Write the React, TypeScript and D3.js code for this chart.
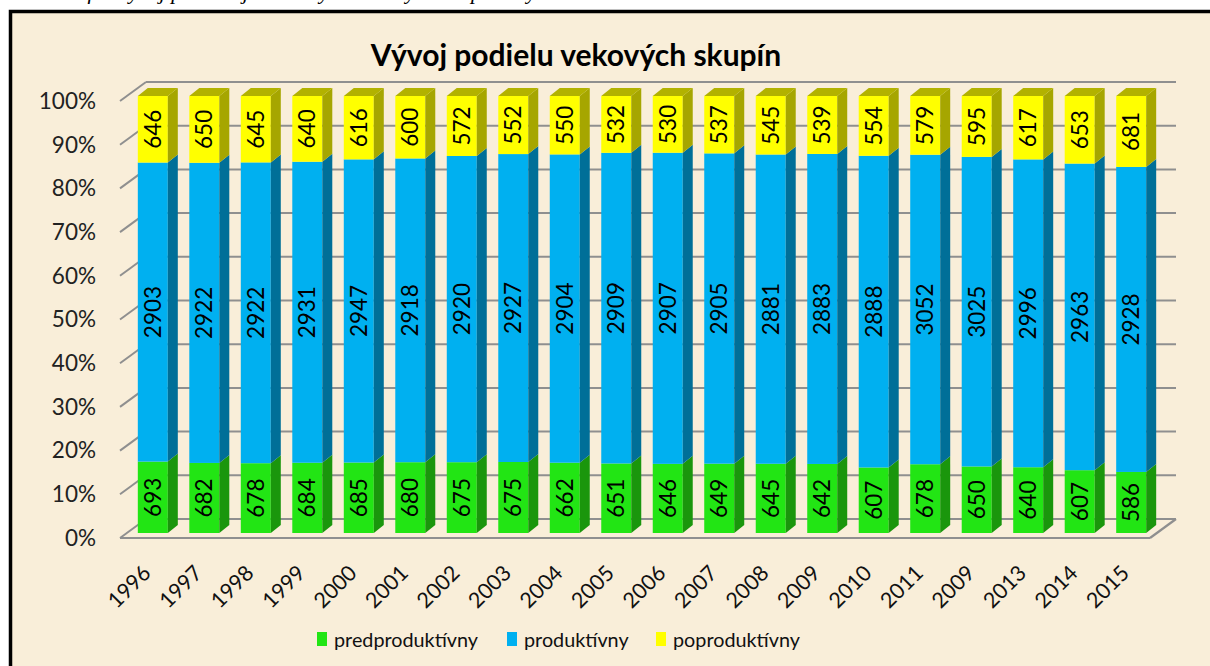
import React from "react";
import * as d3 from "d3";

const years = ["1996","1997","1998","1999","2000","2001","2002","2003","2004","2005","2006","2007","2008","2009","2010","2011","2009","2013","2014","2015"];
const predproduktivny = [693,682,678,684,685,680,675,675,662,651,646,649,645,642,607,678,650,640,607,586];
const produktivny = [2903,2922,2922,2931,2947,2918,2920,2927,2904,2909,2907,2905,2881,2883,2888,3052,3025,2996,2963,2928];
const poproduktivny = [646,650,645,640,616,600,572,552,550,532,530,537,545,539,554,579,595,617,653,681];
const seriesNames = ["predproduktívny", "produktívny", "poproduktívny"];
const yTicks = [0,0.1,0.2,0.3,0.4,0.5,0.6,0.7,0.8,0.9,1];
const title = "Vývoj podielu vekových skupín";

const frontColors = ["#22e514", "#00b0f0", "#ffff00"];
const sideColors = ["#1a960c", "#006f98", "#a6a600"];
const topColor = "#b2b200";

const W = 1210, H = 666;
const font = "Lato, 'Open Sans', sans-serif";

export default function App() {
  const n = years.length;
  const x = d3.scaleBand<number>()
    .domain(d3.range(n))
    .range([120, 1150])
    .paddingInner(0.4175)
    .paddingOuter(0.21);
  const y = d3.scaleLinear().domain([0, 1]).range([538, 101]);
  const depthX = 26, depthY = -19; // back wall offset
  const barOffX = 7, barOffY = -5; // bar front offset from front plane
  const bdx = 10, bdy = -8; // bar depth
  const data = years.map((yr, i) => {
    const vals = [predproduktivny[i], produktivny[i], poproduktivny[i]];
    const total = d3.sum(vals);
    const stack: { v: number; y0: number; y1: number }[] = [];
    let acc = 0;
    vals.forEach((v) => {
      stack.push({ v, y0: acc / total, y1: (acc + v) / total });
      acc += v;
    });
    return { yr, i, stack };
  });
  const bw = x.bandwidth();
  const legendX = [317, 507, 656];

  return (
    <svg width={W} height={H} style={{ position: "absolute", left: 0, top: 0, display: "block" }}>
      <rect x={0} y={0} width={W} height={H} fill="#ffffff" />
      <text x={52} y={-1} fontFamily="'Liberation Serif', 'DejaVu Serif', serif" fontStyle="italic" fontSize={22} fill="#000">
        Graf 3 Vývoj podielu jednotlivých vekových skupín obyvateľstva obce v rokoch 1996 – 2015
      </text>
      <rect x={10.5} y={11.5} width={W + 20} height={H + 20} fill="#f9eed9" stroke="#000" strokeWidth={3.5} />
      <text x={576} y={66} textAnchor="middle" fontFamily={font} fontWeight={700} fontSize={30} fill="#000">{title}</text>

      {/* back wall gridlines and left diagonals */}
      {yTicks.map((t) => (
        <g key={t} stroke="#8f8f8f" strokeWidth={2} fill="none">
          <line x1={120 + depthX} x2={1150 + depthX} y1={y(t) + depthY} y2={y(t) + depthY} />
          <line x1={120} y1={y(t)} x2={120 + depthX} y2={y(t) + depthY} />
        </g>
      ))}
      {/* floor front */}
      <g stroke="#8f8f8f" strokeWidth={2.2} fill="none">
        <line x1={120} x2={1150} y1={y(0)} y2={y(0)} />
        <line x1={1150} y1={y(0)} x2={1150 + depthX} y2={y(0) + depthY} />
      </g>
      {/* y axis labels */}
      {yTicks.map((t) => (
        <text key={"l" + t} x={96} y={y(t)} dy="0.35em" textAnchor="end" fontFamily={font} fontSize={22.5} fill="#222">
          {d3.format(".0%")(t)}
        </text>
      ))}

      {/* bars */}
      {data.map((d) => {
        const x0 = (x(d.i) as number) + barOffX;
        return (
          <g key={d.i}>
            {d.stack.map((s, k) => {
              const yt = y(s.y1) + barOffY;
              const yb = y(s.y0) + barOffY;
              return (
                <g key={k}>
                  <rect x={x0} y={yt} width={bw} height={yb - yt} fill={frontColors[k]} />
                  <polygon
                    points={`${x0 + bw},${yt} ${x0 + bw + bdx},${yt + bdy} ${x0 + bw + bdx},${yb + bdy} ${x0 + bw},${yb}`}
                    fill={sideColors[k]}
                  />
                  {k === 2 && (
                    <polygon
                      points={`${x0},${yt} ${x0 + bdx},${yt + bdy} ${x0 + bw + bdx},${yt + bdy} ${x0 + bw},${yt}`}
                      fill={topColor}
                    />
                  )}
                  <text
                    transform={`translate(${x0 + bw / 2},${(yt + yb) / 2}) rotate(-90)`}
                    textAnchor="middle"
                    dy="0.35em"
                    fontFamily={font}
                    fontSize={22.5}
                    fill="#000"
                  >
                    {s.v}
                  </text>
                </g>
              );
            })}
          </g>
        );
      })}

      {/* x axis labels */}
      {data.map((d) => {
        const cx = (x(d.i) as number) + barOffX + bw / 2 - 6;
        return (
          <text
            key={"x" + d.i}
            transform={`translate(${cx},${569}) rotate(-45)`}
            textAnchor="end"
            dy="0.35em"
            fontFamily={font}
            fontSize={21.5}
            fill="#111"
          >
            {d.yr}
          </text>
        );
      })}

      {/* legend */}
      {seriesNames.map((s, k) => (
        <g key={s}>
          <rect x={legendX[k]} y={632} width={10} height={14} fill={frontColors[k]} />
          <text x={legendX[k] + 17} y={647} fontFamily={font} fontSize={19.8} fill="#111">{s}</text>
        </g>
      ))}
    </svg>
  );
}
